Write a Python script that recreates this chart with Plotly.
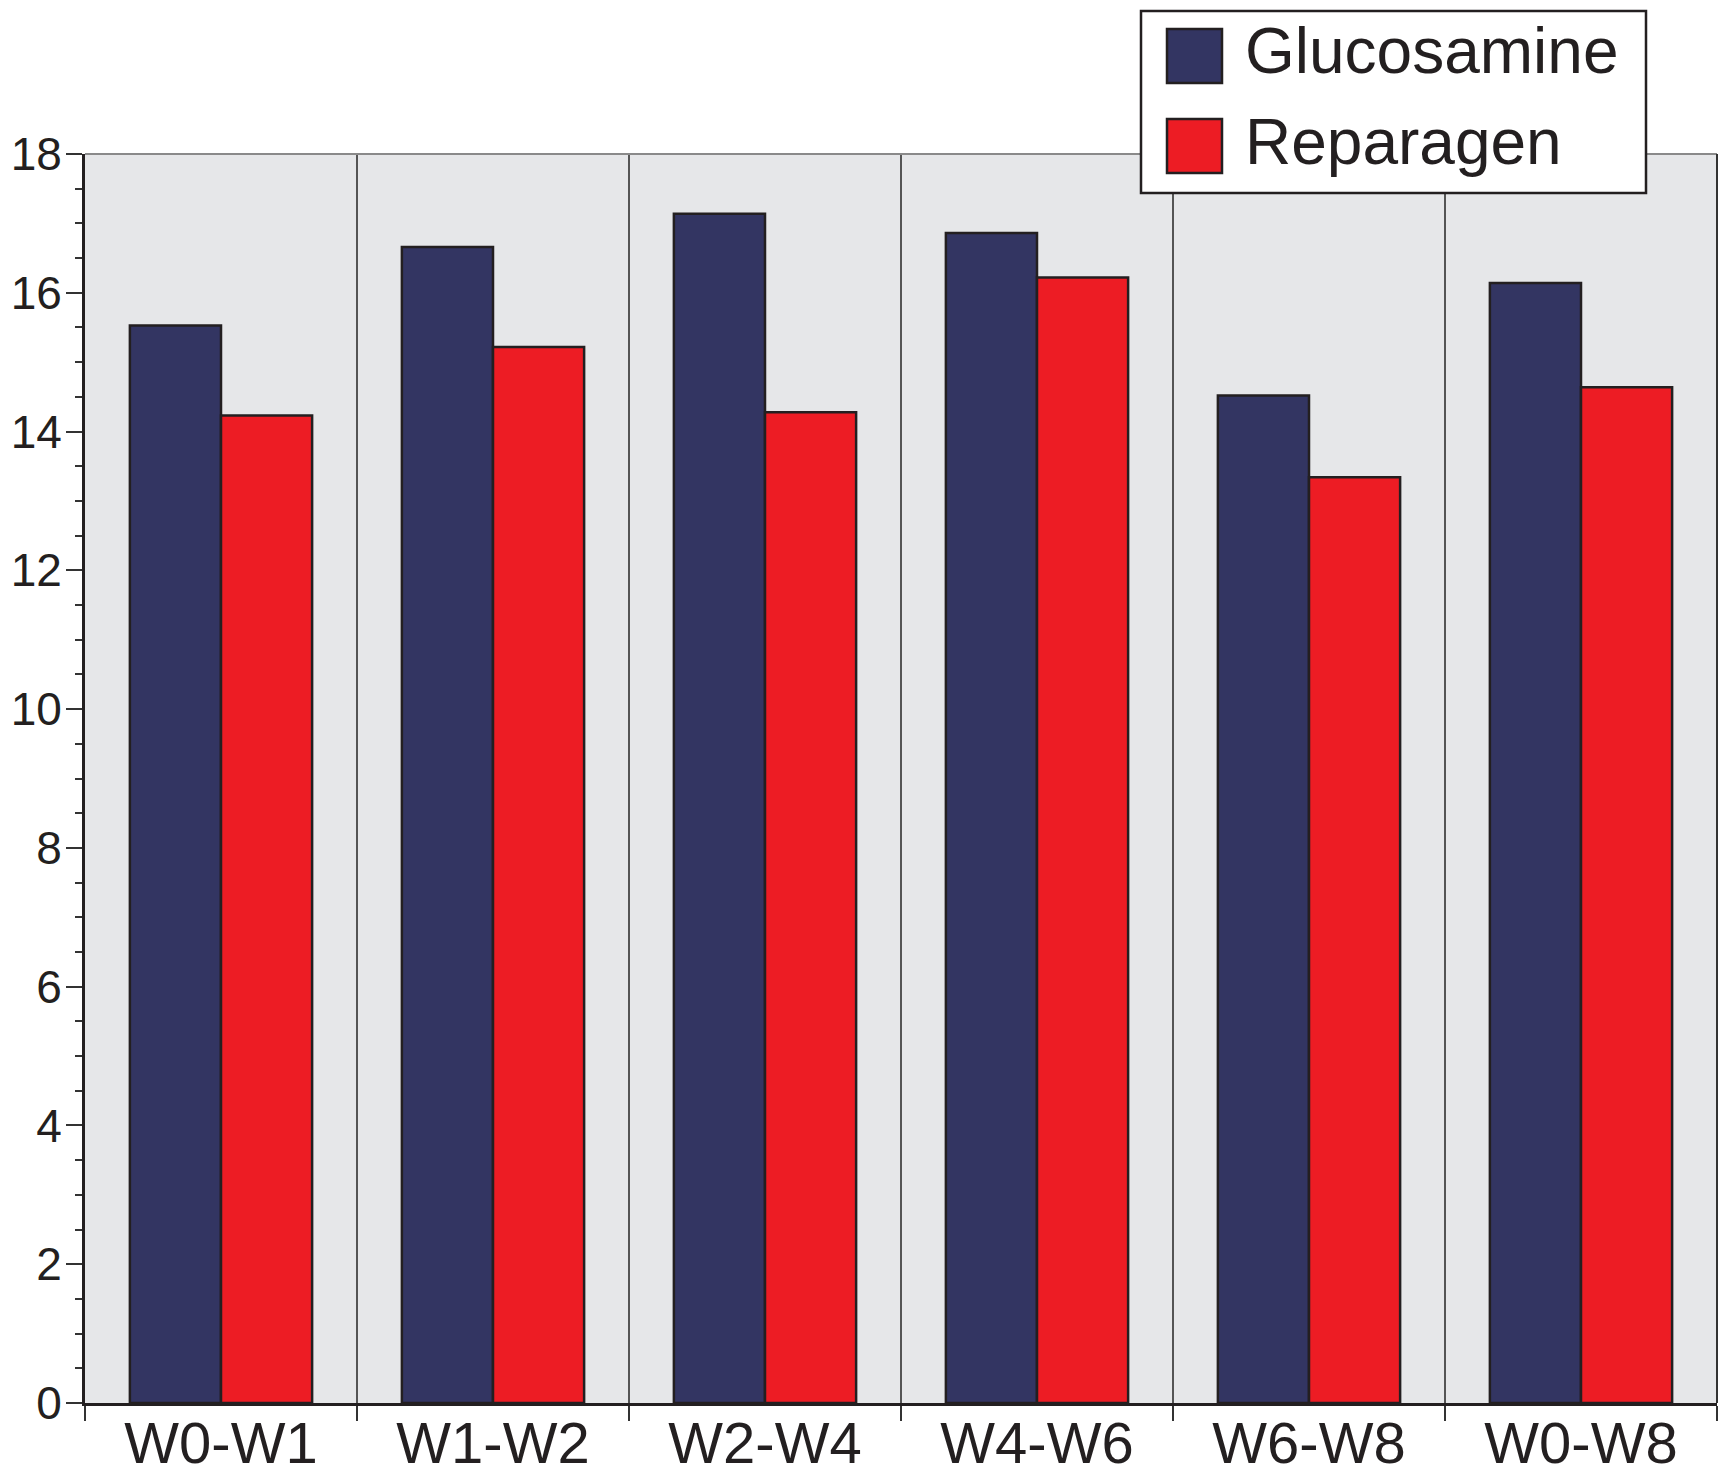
import plotly.graph_objects as go

categories = ["W0-W1", "W1-W2", "W2-W4", "W4-W6", "W6-W8", "W0-W8"]
glucosamine = [15.53, 16.66, 17.14, 16.86, 14.52, 16.14]
reparagen = [14.23, 15.22, 14.28, 16.22, 13.34, 14.64]
series_names = ["Glucosamine", "Reparagen"]
y_ticks = [0, 2, 4, 6, 8, 10, 12, 14, 16, 18]

# page body has an 8px margin; figure drawn inside it
OFF = 8
W, H = 1729 - OFF, 1476 - OFF
L, R, T, B = 85 - OFF, 12, 154 - OFF, 73
PW, PH = W - L - R, H - T - B

BLUE = "#333562"
RED = "#ed1c24"
INK = "#231f20"
FONT = "Liberation Sans, Arial, Helvetica, sans-serif"


def px_x(px):
    # screen pixel -> paper fraction
    return (px - OFF - L) / PW


def px_y(py):
    return (H - B - (py - OFF)) / PH


fig = go.Figure()
fig.add_trace(go.Bar(x=categories, y=glucosamine, name=series_names[0],
                     marker=dict(color=BLUE, line=dict(color=INK, width=2.5)),
                     showlegend=False))
fig.add_trace(go.Bar(x=categories, y=reparagen, name=series_names[1],
                     marker=dict(color=RED, line=dict(color=INK, width=2.5)),
                     showlegend=False))

shapes = [
    dict(type="line", xref="paper", yref="paper", x0=0, x1=1, y0=1, y1=1,
         line=dict(color="#8a8a8a", width=2)),
    dict(type="line", xref="paper", yref="paper", x0=1, x1=1, y0=0, y1=1,
         line=dict(color="#333333", width=2)),
    dict(type="rect", xref="paper", yref="paper",
         x0=px_x(1141), x1=px_x(1646), y0=px_y(193), y1=px_y(11),
         fillcolor="white", line=dict(color=INK, width=2.5), layer="above"),
    dict(type="rect", xref="paper", yref="paper",
         x0=px_x(1167), x1=px_x(1222), y0=px_y(83), y1=px_y(29),
         fillcolor=BLUE, line=dict(color=INK, width=2.5), layer="above"),
    dict(type="rect", xref="paper", yref="paper",
         x0=px_x(1167), x1=px_x(1222), y0=px_y(173), y1=px_y(119),
         fillcolor=RED, line=dict(color=INK, width=2.5), layer="above"),
]

annotations = [
    dict(text=series_names[0], xref="paper", yref="paper", x=px_x(1243), y=px_y(51),
         xanchor="left", yanchor="middle", showarrow=False,
         font=dict(family=FONT, size=64, color=INK)),
    dict(text=series_names[1], xref="paper", yref="paper", x=px_x(1243), y=px_y(142),
         xanchor="left", yanchor="middle", showarrow=False,
         font=dict(family=FONT, size=64, color=INK)),
]

fig.update_layout(
    width=W, height=H,
    margin=dict(l=L, r=R, t=T, b=B, pad=0),
    paper_bgcolor="white",
    plot_bgcolor="#e6e7e9",
    barmode="group",
    bargap=0.33,
    bargroupgap=0,
    font=dict(family=FONT, color=INK),
    shapes=shapes,
    annotations=annotations,
    xaxis=dict(
        type="category",
        automargin=False,
        tickson="boundaries",
        ticks="outside", ticklen=15, tickwidth=2, tickcolor="#333333",
        ticklabelstandoff=-13,
        showgrid=True, gridcolor="#555555", gridwidth=1.5,
        showline=True, linecolor=INK, linewidth=3,
        tickfont=dict(family=FONT, size=58, color=INK),
        range=[-0.5, 5.5],
    ),
    yaxis=dict(
        range=[0, 18],
        automargin=False,
        tickvals=y_ticks,
        ticks="outside", ticklen=16, tickwidth=2, tickcolor="#333333",
        ticklabelstandoff=-5,
        showgrid=False, zeroline=False,
        showline=True, linecolor=INK, linewidth=3,
        tickfont=dict(family=FONT, size=46, color=INK),
        minor=dict(dtick=0.5, ticks="outside", ticklen=7, tickwidth=1.5,
                   tickcolor="#333333", showgrid=False),
    ),
)

fig.write_html("out.html")
